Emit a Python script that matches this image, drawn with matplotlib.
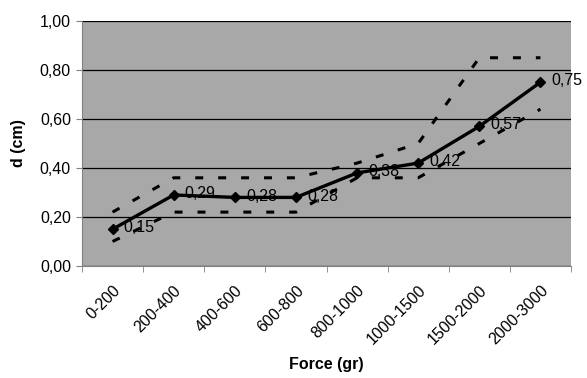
import matplotlib
matplotlib.use("Agg")
import matplotlib.pyplot as plt
import numpy as np

categories = ["0-200", "200-400", "400-600", "600-800", "800-1000",
              "1000-1500", "1500-2000", "2000-3000"]
mean_vals = [0.15, 0.29, 0.28, 0.28, 0.38, 0.42, 0.57, 0.75]
upper_vals = [0.22, 0.36, 0.36, 0.36, 0.42, 0.50, 0.85, 0.85]
lower_vals = [0.10, 0.22, 0.22, 0.22, 0.36, 0.36, 0.50, 0.64]
y_ticks = [0.0, 0.2, 0.4, 0.6, 0.8, 1.0]
y_tick_labels = ["0,00", "0,20", "0,40", "0,60", "0,80", "1,00"]

plt.rcParams['font.family'] = ['Liberation Sans', 'DejaVu Sans']

fig = plt.figure(figsize=(5.87, 3.78), dpi=100)
ax = fig.add_axes([82/587, 1-266/378, (571-82)/587, (266-21)/378])
ax.set_facecolor('#a8a8a8')

x = np.arange(len(categories))
dash = (0, (2.6, 4.9))
ax.plot(x, upper_vals, color='black', lw=2.2, linestyle=dash, zorder=3)
ax.plot(x, lower_vals, color='black', lw=2.2, linestyle=dash, zorder=3)
ax.plot(x, mean_vals, color='black', lw=2.4, marker='D', markersize=5, zorder=4)

for xi, v in zip(x, mean_vals):
    ax.annotate(f"{v:.2f}".replace('.', ','), (xi, v), xytext=(8, 1),
                textcoords='offset points', ha='left', va='center',
                fontsize=11.5, color='black', zorder=5, annotation_clip=False,
                clip_on=False)

ax.set_xlim(-0.5, len(categories) - 0.5)
ax.set_ylim(0, 1.0)
ax.set_yticks(y_ticks)
ax.set_yticklabels(y_tick_labels, fontsize=11.5)
ax.yaxis.grid(True, color='black', lw=0.9)
ax.set_axisbelow(True)

ax.set_xticks(x)
ax.set_xticklabels(categories, rotation=45, ha='right', rotation_mode='anchor',
                   fontsize=11.5)
ax.tick_params(axis='x', which='major', length=0, pad=12)
ax.set_xticks(np.arange(-0.5, len(categories)), minor=True)
ax.tick_params(axis='x', which='minor', length=4, color='#808080')
ax.tick_params(axis='y', length=4, color='#808080', pad=4)

for s in ['top', 'right']:
    ax.spines[s].set_visible(False)
for s in ['left', 'bottom']:
    ax.spines[s].set_color('#808080')

ax.set_xlabel("Force (gr)", fontsize=11.5, fontweight='bold', labelpad=7)
ax.set_ylabel("d (cm)", fontsize=11.5, fontweight='bold', labelpad=10)

fig.savefig("out.png", dpi=100)
